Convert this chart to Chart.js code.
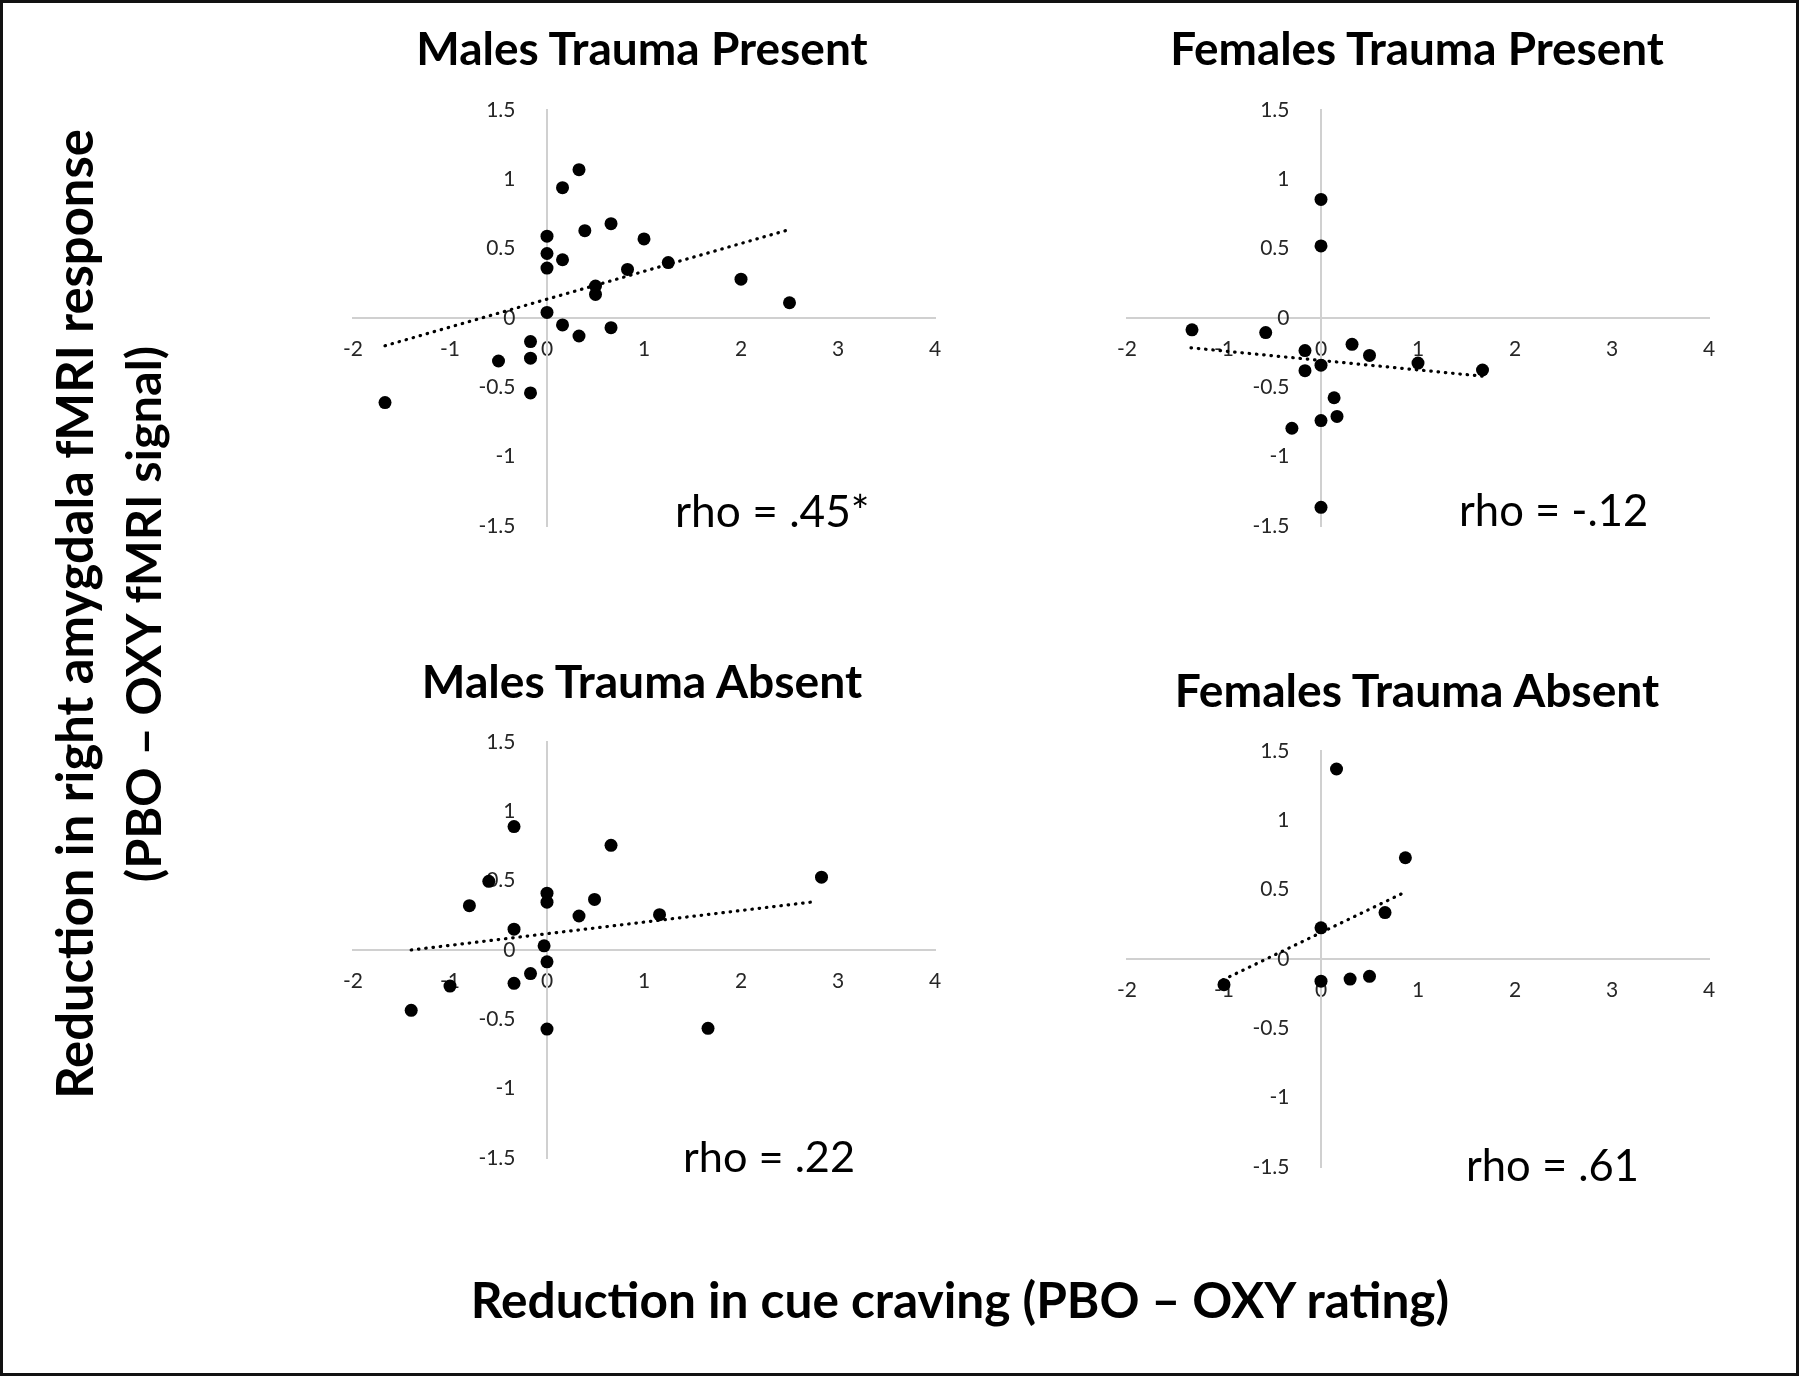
<!DOCTYPE html>
<html>
<head>
<meta charset="utf-8">
<script src="https://cdn.jsdelivr.net/npm/chart.js@4/dist/chart.umd.min.js"></script>
<style>
  body { margin: 0; background: #fff; }
  #page { position: relative; width: 1800px; height: 1377px; overflow: hidden; font-family: Lato, "Open Sans", sans-serif; }
  .frame { position: absolute; left: 0; top: 0; width: 1799px; height: 1376px; border: 3px solid #111; box-sizing: border-box; }
  .panel { position: absolute; }
  .lbl { position: absolute; white-space: nowrap; line-height: 1; color: #000; }
</style>
</head>
<body>
<div id="page">
  <div class="frame"></div>
  <canvas id="mp" class="panel"></canvas>
  <canvas id="fp" class="panel"></canvas>
  <canvas id="ma" class="panel"></canvas>
  <canvas id="fa" class="panel"></canvas>
</div>
<script>
//------------------------------------------------------
// DATA
//------------------------------------------------------
const xTickVals = [-2, -1, 0, 1, 2, 3, 4];
const yTickVals = [-1.5, -1, -0.5, 0, 0.5, 1, 1.5];

// Males Trauma Present
const mpX = [0.33, 0.16, 0.66, 0.39, 1.0, 0, 0, 0.16, 0, 0.83, 1.25, 2.0, 2.5, 0.5, 0.5, 0, 0.16, 0.33, 0.66, -0.17, -0.17, -0.5, -0.17, -1.67];
const mpY = [1.07, 0.94, 0.68, 0.63, 0.57, 0.59, 0.465, 0.42, 0.36, 0.35, 0.40, 0.28, 0.11, 0.23, 0.17, 0.04, -0.05, -0.13, -0.07, -0.17, -0.29, -0.31, -0.54, -0.61];
const mpTrendX = [-1.67, 2.46];
const mpTrendY = [-0.2, 0.63];

// Females Trauma Present
const fpX = [0, 0, -1.33, -0.57, -0.165, 0.32, 0.5, 0, -0.165, 1.0, 1.665, 0.135, 0.165, 0, -0.3, 0];
const fpY = [0.855, 0.52, -0.085, -0.105, -0.235, -0.19, -0.27, -0.34, -0.38, -0.325, -0.375, -0.575, -0.71, -0.74, -0.795, -1.365];
const fpTrendX = [-1.34, 1.67];
const fpTrendY = [-0.215, -0.42];

// Males Trauma Absent
const maX = [-0.34, 0.66, 2.83, -0.6, -0.8, 0, 0, 0.49, 0.33, 1.16, -0.34, -0.03, 0, -0.17, -0.34, -1.0, -1.4, 0, 1.66];
const maY = [0.89, 0.755, 0.525, 0.495, 0.32, 0.41, 0.345, 0.365, 0.245, 0.255, 0.15, 0.03, -0.085, -0.17, -0.24, -0.26, -0.435, -0.57, -0.565];
const maTrendX = [-1.4, 2.78];
const maTrendY = [0.0, 0.35];

// Females Trauma Absent
const faX = [0.16, 0.87, 0.66, 0, 0, 0.3, 0.5, -1.0];
const faY = [1.37, 0.73, 0.335, 0.225, -0.16, -0.145, -0.125, -0.185];
const faTrendX = [-1.01, 0.83];
const faTrendY = [-0.15, 0.47];

//------------------------------------------------------
// PANELS
//------------------------------------------------------
const PAD = 40;

function pts(xs, ys) {
  return xs.map((x, i) => ({ x: x, y: ys[i] }));
}

const tickFont = { family: 'Lato', size: 21 };
const tickColor = '#262626';

function makePanel(id, area, xs, ys, tx, ty) {
  const cv = document.getElementById(id);
  cv.width = area.w + PAD * 2;
  cv.height = area.h + PAD * 2;
  cv.style.left = (area.x - PAD) + 'px';
  cv.style.top = (area.y - PAD) + 'px';

  return new Chart(cv.getContext('2d'), {
    type: 'scatter',
    data: {
      datasets: [{
        data: pts(xs, ys),
        backgroundColor: '#000',
        borderWidth: 0,
        pointRadius: 6.5,
        pointHoverRadius: 6.5,
        order: 1
      }, {
        data: pts(tx, ty),
        showLine: true,
        borderColor: '#000',
        borderWidth: 3.2,
        borderDash: [0.5, 6.8],
        borderCapStyle: 'round',
        pointRadius: 0,
        fill: false,
        order: 0
      }]
    },
    options: {
      responsive: false,
      animation: false,
      events: [],
      layout: { padding: PAD },
      plugins: { legend: { display: false }, tooltip: { enabled: false } },
      scales: {
        x: {
          type: 'linear',
          position: { y: 0 },
          min: -2, max: 4,
          grid: { display: false, drawTicks: false },
          border: { display: true, color: '#d0d0d0', width: 2 },
          ticks: { autoSkip: false, maxRotation: 0, padding: 19, color: tickColor, font: tickFont,
                   callback: v => String(v) },
          afterBuildTicks: s => { s.ticks = xTickVals.map(v => ({ value: v })); }
        },
        y: {
          type: 'linear',
          position: { x: 0 },
          min: -1.5, max: 1.5,
          grid: { display: false, drawTicks: false },
          border: { display: true, color: '#d0d0d0', width: 2 },
          // labels sit right against a value-positioned axis, so em spaces keep them off the line
          ticks: { autoSkip: false, color: tickColor, font: tickFont,
                   callback: v => String(v) + '\u2003\u2003' },
          afterBuildTicks: s => { s.ticks = yTickVals.map(v => ({ value: v })); }
        }
      }
    }
  });
}

makePanel('mp', { x: 353, y: 110, w: 582, h: 416 }, mpX, mpY, mpTrendX, mpTrendY);
makePanel('fp', { x: 1127, y: 110, w: 582, h: 416 }, fpX, fpY, fpTrendX, fpTrendY);
makePanel('ma', { x: 353, y: 742, w: 582, h: 416 }, maX, maY, maTrendX, maTrendY);
makePanel('fa', { x: 1127, y: 751, w: 582, h: 416 }, faX, faY, faTrendX, faTrendY);

//------------------------------------------------------
// TEXT
//------------------------------------------------------
const page = document.getElementById('page');

// [text, centre x, centre y, width, rotated]
const headings = [
  ['Males Trauma Present', 642, 48, 451, false],
  ['Females Trauma Present', 1417, 48, 494, false],
  ['Males Trauma Absent', 642, 680, 440, false],
  ['Females Trauma Absent', 1417, 689, 485, false],
  ['Reduction in cue craving (PBO \u2013 OXY rating)', 960, 1300, 978, false],
  ['Reduction in right amygdala fMRI response', 74, 614, 970, true],
  ['(PBO \u2013 OXY fMRI signal)', 142, 614, 536, true]
];

headings.forEach(h => {
  const d = document.createElement('div');
  d.className = 'lbl';
  d.style.fontWeight = 'bold';
  d.style.fontSize = '44px';
  d.textContent = h[0];
  page.appendChild(d);
  const fs = 44 * h[3] / d.offsetWidth;
  d.style.fontSize = fs.toFixed(2) + 'px';
  d.style.left = h[1] + 'px';
  d.style.top = h[2] + 'px';
  d.style.transform = 'translate(-50%,-50%)' + (h[4] ? ' rotate(-90deg)' : '');
});

// [text, left, baseline, width]
const rhos = [
  ['rho = .45*', 675, 527, 195],
  ['rho = -.12', 1459, 527, 189],
  ['rho = .22', 683, 1172, 172],
  ['rho = .61', 1466, 1182, 173]
];

rhos.forEach(r => {
  const d = document.createElement('div');
  d.className = 'lbl';
  d.style.fontSize = '44px';
  d.textContent = r[0];
  page.appendChild(d);
  const fs = 44 * r[3] / d.offsetWidth;
  d.style.fontSize = fs.toFixed(2) + 'px';
  d.style.left = r[1] + 'px';
  d.style.top = (r[2] - 0.887 * fs) + 'px';
});
</script>
</body>
</html>
